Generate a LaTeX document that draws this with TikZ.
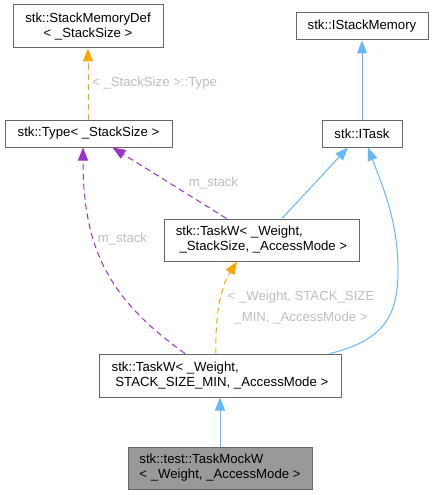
\documentclass[tikz,border=0pt]{standalone}
\usepackage{fontspec}
\setmainfont{Liberation Sans}
\usetikzlibrary{arrows.meta}
\definecolor{eblue}{HTML}{63B8FF}
\definecolor{eorange}{HTML}{FFA500}
\definecolor{epurple}{HTML}{9A32CD}
\definecolor{bord}{HTML}{666666}
\definecolor{lbl}{HTML}{BEBEBE}
\definecolor{mockfill}{HTML}{999999}
\begin{document}
\begin{tikzpicture}[x=1pt,y=-1pt,
  box/.style={draw=bord, line width=1pt, fill=white, inner sep=0pt,
    font=\fontsize{13.2}{15}\selectfont},
  elabel/.style={text=lbl, inner sep=0pt, font=\fontsize{13.2}{15}\selectfont},
  tip/.style={-{Triangle[length=13pt,width=10pt]}},
  inherit/.style={tip, draw=eblue, line width=1pt},
  usage/.style={tip, draw=epurple, line width=1pt, dash pattern=on 6pt off 4pt},
  templ/.style={tip, draw=eorange, line width=1pt, dash pattern=on 6pt off 4pt}]
\useasboundingbox (0,0) rectangle (433,495);

\node[box, minimum width=150pt, minimum height=43pt, align=center] (smd) at (88,26.5)
  {stk::StackMemoryDef\\< \_StackSize >};
\node[box, minimum width=167pt, minimum height=27pt] (type) at (88.5,133.5)
  {stk::Type< \_StackSize >};
\node[box, minimum width=132pt, minimum height=27pt] (ism) at (362,26.5)
  {stk::IStackMemory};
\node[box, minimum width=80pt, minimum height=27pt] (itask) at (362,133.5)
  {stk::ITask};
\node[box, minimum width=195pt, minimum height=42pt, align=left] (tw1) at (261.5,240)
  {stk::TaskW< \_Weight,\\\hspace*{3.7pt}\_StackSize, \_AccessMode >};
\node[box, minimum width=242pt, minimum height=43pt, align=left] (tw2) at (220,375.5)
  {stk::TaskW< \_Weight,\\\hspace*{3.7pt}STACK\_SIZE\_MIN, \_AccessMode >};
\node[box, fill=mockfill, minimum width=184pt, minimum height=42pt, align=left] (mock) at (220,468)
  {stk::test::TaskMockW\\< \_Weight, \_AccessMode >};

% edges
\draw[templ] (type.north -| smd.south) -- (smd.south);
\node[elabel, anchor=west] (l1) at (92,83) {< \_StackSize >::Type};

\draw[inherit] (itask.north) -- (ism.south);

\draw[inherit] ([xshift=20.5pt]tw1.north) -- ([xshift=-14pt]itask.south);

\draw[inherit] ([xshift=110pt]tw2.north) .. controls (385,340) and (398,315) .. (398,270)
  .. controls (398,220) and (382,185) .. ([xshift=6pt]itask.south);

\draw[usage] ([xshift=-35pt]tw1.north) -- ([xshift=24pt]type.south);
\node[elabel] (l2) at (213.5,183) {m\_stack};

\draw[usage] ([xshift=-35pt]tw2.north) .. controls (110,300) and (83,250) .. ([xshift=-5.5pt]type.south);
\node[elabel] (l3) at (122.5,239) {m\_stack};

\draw[templ] ([xshift=-4pt]tw2.north) .. controls (215,310) and (222,285) .. ([xshift=-24.5pt]tw1.south);
\node[elabel, align=center, font=\fontsize{13.2}{21}\selectfont] (l4) at (301,307.5)
  {< \_Weight, STACK\_SIZE\\\_MIN, \_AccessMode >};

\draw[inherit] (mock.north) -- (tw2.south);
\end{tikzpicture}
\end{document}
